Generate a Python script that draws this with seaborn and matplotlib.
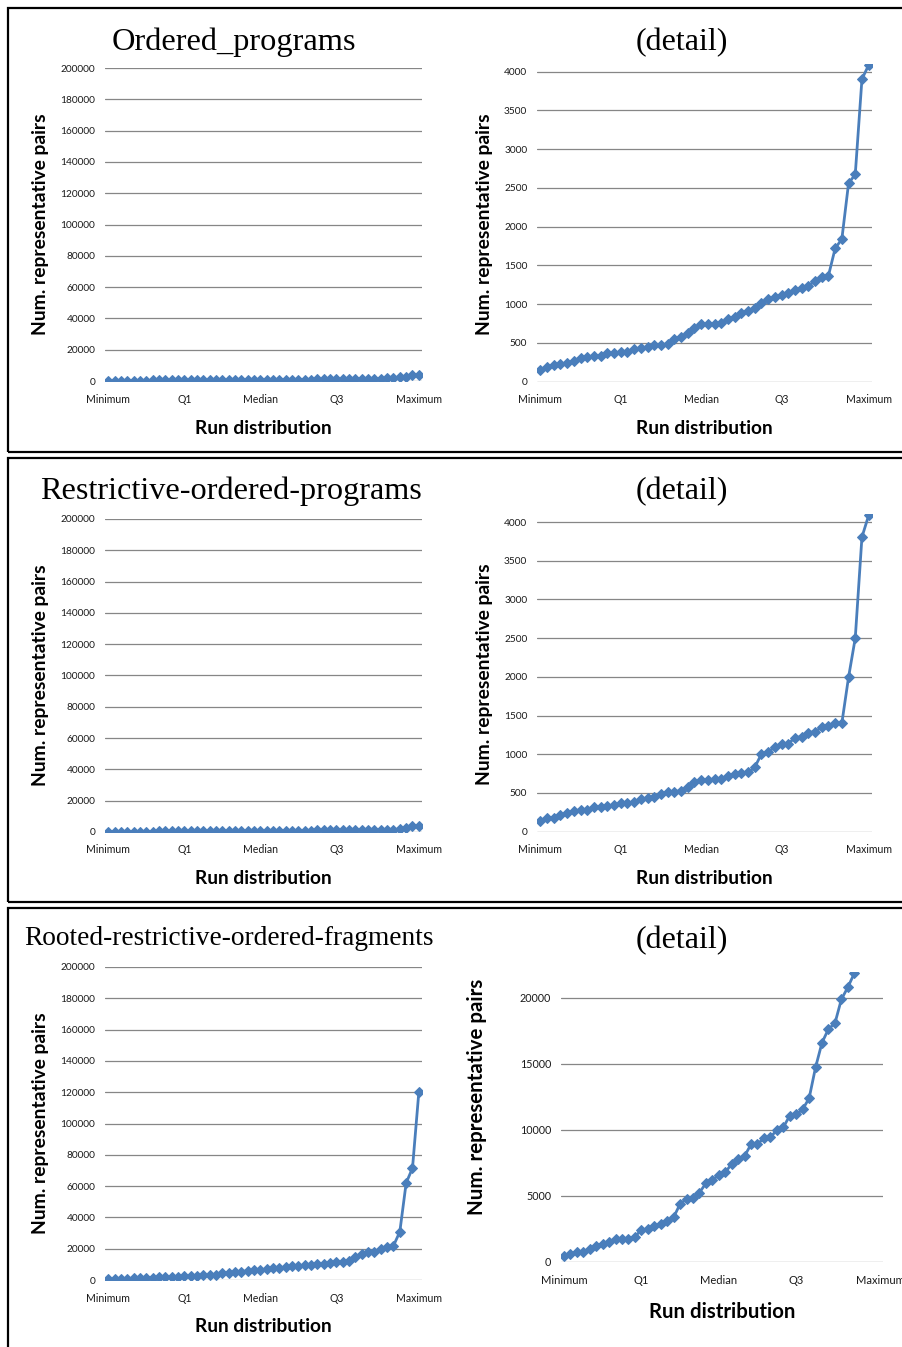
import matplotlib
matplotlib.use("Agg")
import matplotlib.pyplot as plt
import seaborn as sns
from matplotlib.patches import Rectangle

sns.set_theme(style="white")
plt.rcParams['font.family'] = ['Lato', 'DejaVu Sans']

# Sorted run results (number of representative pairs), one value per run
ordered_programs = [
    150, 194, 215, 225, 237, 271, 310, 323, 331, 335,
    366, 368, 378, 387, 426, 430, 443, 473, 475, 486,
    555, 581, 624, 688, 740, 742, 745, 753, 804, 839,
    882, 916, 946, 1011, 1067, 1088, 1118, 1140, 1183, 1204,
    1239, 1299, 1355, 1368, 1720, 1841, 2559, 2675, 3905, 4086,
]
restrictive_ordered_programs = [
    138, 181, 183, 216, 237, 272, 280, 282, 323, 325,
    332, 345, 366, 368, 388, 422, 431, 453, 487, 509,
    517, 530, 582, 638, 664, 668, 677, 681, 720, 750,
    763, 765, 832, 1004, 1026, 1099, 1134, 1136, 1215, 1228,
    1280, 1293, 1349, 1371, 1401, 1403, 1995, 2500, 3806, 4086,
]
rooted_restrictive_ordered_fragments = [
    480, 631, 758, 783, 960, 1237, 1389, 1540, 1717, 1740,
    1768, 1919, 2424, 2475, 2727, 2904, 3131, 3384, 4394, 4772,
    4823, 5252, 5959, 6212, 6590, 6792, 7424, 7802, 8030, 8913,
    8939, 9368, 9444, 9999, 10201, 11085, 11186, 11565, 12398, 14746,
    16615, 17650, 18079, 19897, 20806, 21866, 30800, 62000, 71500, 120000,
]

# Category axis labels: quartile markers along the sorted runs
run_labels = (["Minimum"] + [""] * 11 + ["Q1"] + [""] * 11 + ["Median"]
              + [""] * 11 + ["Q3"] + [""] * 12 + ["Maximum"])

panel_titles = ["Ordered_programs", "Restrictive-ordered-programs",
                "Rooted-restrictive-ordered-fragments"]
detail_title = "(detail)"
y_label = "Num. representative pairs"
x_label = "Run distribution"

full_ticks = list(range(0, 200001, 20000))
detail_ticks_small = list(range(0, 4001, 500))
detail_ticks_large = list(range(0, 20001, 5000))

W, H = 902, 1347
LINE = "#4A7EBB"
GRID = "#868686"

fig = plt.figure(figsize=(W / 100, H / 100), dpi=100)
fig.patch.set_facecolor("white")


def px_axes(x0, y0, x1, y1):
    return fig.add_axes([x0 / W, 1 - y1 / H, (x1 - x0) / W, (y1 - y0) / H])


def draw(ax, values, ticks, ytop, ylab_xy, xlab_xy, scale=1.0):
    sns.lineplot(x=list(range(len(values))), y=values, ax=ax, color=LINE,
                 marker="D", markersize=4.7, markeredgecolor=LINE,
                 linewidth=2.0)
    ax.set_xlim(-0.5, len(values) - 0.5)
    ax.set_ylim(0, ytop)
    ax.set_yticks(ticks)
    ax.set_yticklabels([str(t) for t in ticks])
    pos = [i for i, s in enumerate(run_labels) if s]
    ax.set_xticks(pos)
    ax.set_xticklabels([run_labels[i] for i in pos])
    for sp in ax.spines.values():
        sp.set_visible(False)
    ax.yaxis.grid(True, color=GRID, linewidth=0.9)
    ax.xaxis.grid(False)
    ax.set_axisbelow(True)
    ax.tick_params(axis="y", length=0, labelsize=7.3 * scale, pad=7,
                   labelcolor="#1a1a1a")
    ax.tick_params(axis="x", length=0, labelsize=7.6 * scale, pad=9,
                   labelcolor="#1a1a1a")
    ax.set_ylabel(y_label, fontsize=13.9 * scale, fontweight="bold",
                  va="center", color="black")
    ax.yaxis.set_label_coords(*ylab_xy)
    ax.set_xlabel(x_label, fontsize=13.8 * scale, fontweight="bold",
                  va="center", color="black")
    ax.xaxis.set_label_coords(*xlab_xy)


def title(x, y, text, size):
    fig.text(x / W, 1 - y / H, text, family="Liberation Serif", fontsize=size,
             ha="center", va="baseline", color="black")


# Panel 1
ax = px_axes(105, 68, 422, 381)
draw(ax, ordered_programs, full_ticks, 200000, (-0.205, 0.5), (0.5, -0.153))
ax = px_axes(537, 64, 872, 381.7)
draw(ax, ordered_programs, detail_ticks_small, 4100, (-0.158, 0.496),
     (0.5, -0.147))
title(234, 50, panel_titles[0], 23.3)
title(682, 50, detail_title, 23.0)

# Panel 2
ax = px_axes(105, 519, 422, 832)
draw(ax, restrictive_ordered_programs, full_ticks, 200000, (-0.205, 0.5),
     (0.5, -0.147))
ax = px_axes(537, 514.3, 872, 831.7)
draw(ax, restrictive_ordered_programs, detail_ticks_small, 4100,
     (-0.158, 0.496), (0.5, -0.147))
title(231, 499, panel_titles[1], 23.2)
title(682, 499, detail_title, 23.0)

# Panel 3
ax = px_axes(105, 967, 422, 1280)
draw(ax, rooted_restrictive_ordered_fragments, full_ticks, 200000,
     (-0.205, 0.5), (0.5, -0.147))
ax = px_axes(560.7, 971.6, 883.3, 1262)
draw(ax, rooted_restrictive_ordered_fragments, detail_ticks_large, 22000,
     (-0.259, 0.568), (0.5, -0.172), scale=1.06)
title(229, 945, panel_titles[2], 19.7)
title(682, 948, detail_title, 23.0)

# Panel frames
for top, bottom in [(8, 452), (458, 902), (908, 1400)]:
    fig.add_artist(Rectangle((8 / W, 1 - bottom / H), (960 - 8) / W,
                             (bottom - top) / H, transform=fig.transFigure,
                             fill=False, edgecolor="black", linewidth=1.6,
                             clip_on=False))

fig.savefig("out.png", dpi=100, facecolor="white")
